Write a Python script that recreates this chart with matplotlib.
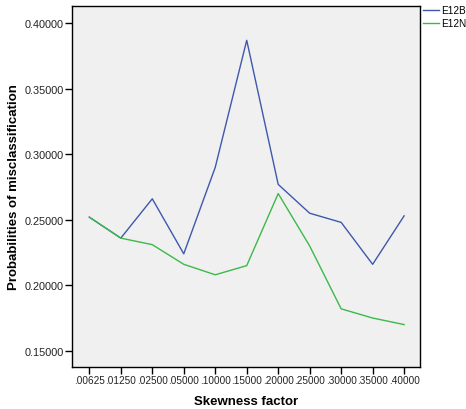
import matplotlib.pyplot as plt
import numpy as np

plt.rcParams['font.family'] = ['Liberation Sans', 'DejaVu Sans']

# skewness factor categories and misclassification probabilities
factors = ['.00625', '.01250', '.02500', '.05000', '.10000', '.15000',
           '.20000', '.25000', '.30000', '.35000', '.40000']
e12b = [0.252, 0.236, 0.266, 0.224, 0.290, 0.387, 0.277, 0.255, 0.248, 0.216, 0.253]
e12n = [0.252, 0.236, 0.231, 0.216, 0.208, 0.215, 0.270, 0.230, 0.182, 0.175, 0.170]

fig = plt.figure(figsize=(4.66, 4.10), dpi=100)
ax = fig.add_axes([0.1545, 0.1024, 0.7465, 0.8806])
ax.set_facecolor('#f0f0f0')

x = np.arange(len(factors))
ax.plot(x, e12b, color='#3e58ac', lw=1.0, label='E12B')
ax.plot(x, e12n, color='#3cb94a', lw=1.0, label='E12N')

ax.set_xlim(-0.55, 10.5)
ax.set_ylim(0.1376, 0.4132)
ax.set_xticks(x)
ax.set_xticklabels(factors, fontsize=7.2, color='#222222')
yt = [0.15, 0.20, 0.25, 0.30, 0.35, 0.40]
ax.set_yticks(yt)
ax.set_yticklabels(['%.5f' % v for v in yt], fontsize=7.8, color='#222222')
ax.tick_params(direction='out', length=5, width=1, pad=1)
for s in ax.spines.values():
    s.set_color('black')
    s.set_linewidth(1.0)

ax.set_xlabel('Skewness factor', fontsize=9.5, fontweight='bold', labelpad=7)
ax.set_ylabel('Probabilities of misclassification', fontsize=9.5, fontweight='bold', labelpad=3)

ax.legend(loc='upper left', bbox_to_anchor=(1.003, 1.008), frameon=False,
          fontsize=7.2, handlelength=1.6, handletextpad=0.25, labelspacing=0.3,
          borderaxespad=0, borderpad=0.2)

fig.savefig('out.png', dpi=100)
